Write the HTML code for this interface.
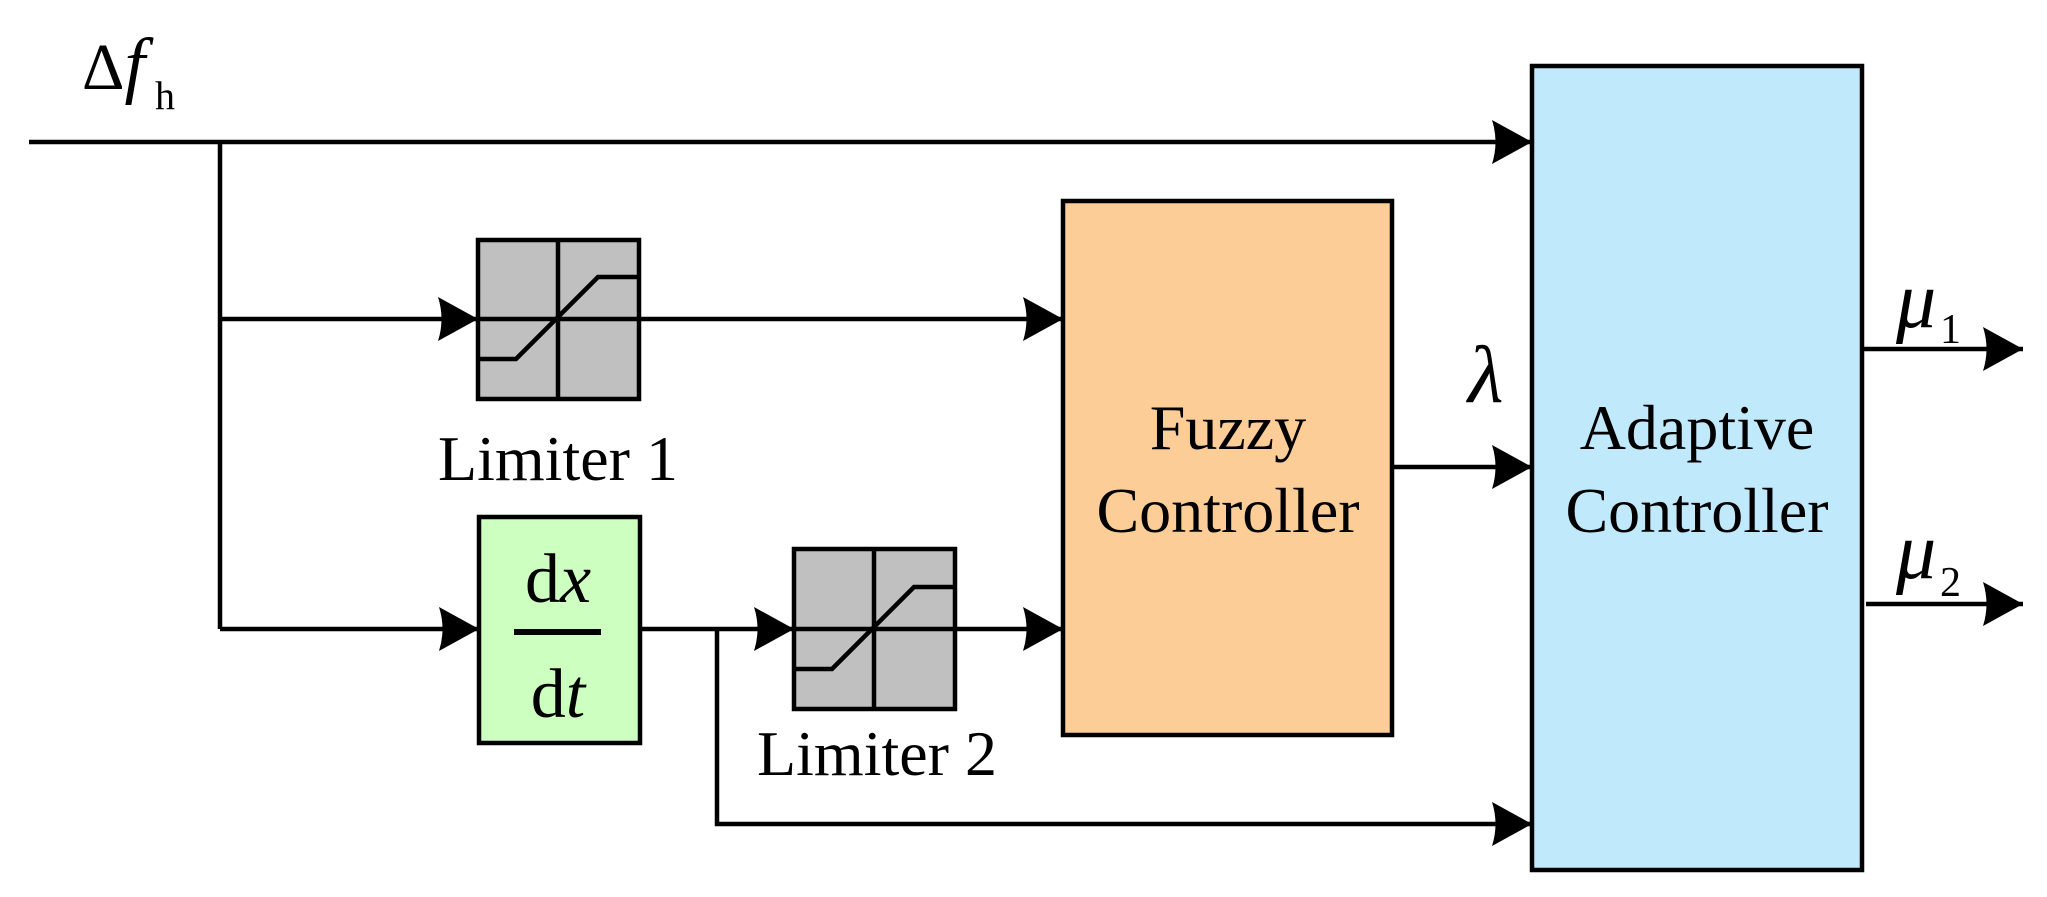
<!DOCTYPE html>
<html><head><meta charset="utf-8"><style>
html,body{margin:0;padding:0;background:#fff;}
svg{display:block;}
text{font-family:"Liberation Serif",serif;fill:#000;}
</style></head><body>
<svg width="2047" height="897" viewBox="0 0 2047 897" xmlns="http://www.w3.org/2000/svg">
<defs>
<marker id="ah" markerUnits="userSpaceOnUse" markerWidth="44" markerHeight="48" refX="40" refY="24" orient="auto">
<path d="M0,2 Q7,24 0,46 L40,24 Z" fill="#000"/>
</marker>
</defs>
<g stroke="#000" stroke-width="4.5" fill="none">
<rect x="1063" y="201" width="329" height="534" fill="#fdcd98"/>
<rect x="1532" y="66" width="330" height="804" fill="#c0eafc"/>
<rect x="478" y="240" width="161" height="159" fill="#c0c0c0"/>
<rect x="479" y="517" width="161" height="226" fill="#ccffc0"/>
<rect x="794" y="549" width="161" height="160" fill="#c0c0c0"/>
<line x1="558" y1="240" x2="558" y2="399"/>
<polyline points="478,359 516,359 598,277 639,277"/>
<line x1="874" y1="549" x2="874" y2="709"/>
<polyline points="794,669 832,669 914,587 955,587"/>
<line x1="29" y1="142" x2="1532" y2="142" marker-end="url(#ah)"/>
<line x1="220" y1="142" x2="220" y2="629"/>
<line x1="220" y1="319" x2="478" y2="319" marker-end="url(#ah)"/>
<line x1="478" y1="319" x2="639" y2="319"/>
<line x1="639" y1="319" x2="1063" y2="319" marker-end="url(#ah)"/>
<line x1="220" y1="629" x2="479" y2="629" marker-end="url(#ah)"/>
<line x1="640" y1="629" x2="794" y2="629" marker-end="url(#ah)"/>
<line x1="794" y1="629" x2="955" y2="629"/>
<line x1="955" y1="629" x2="1063" y2="629" marker-end="url(#ah)"/>
<polyline points="717,629 717,824 1532,824" marker-end="url(#ah)"/>
<line x1="1392" y1="467" x2="1532" y2="467" marker-end="url(#ah)"/>
<line x1="1862" y1="349" x2="2023" y2="349" marker-end="url(#ah)"/>
<line x1="1866" y1="604" x2="2023" y2="604" marker-end="url(#ah)"/>
<line x1="514" y1="632" x2="601" y2="632" stroke-width="6"/>
</g>
<text x="82" y="89" font-size="66">Δ<tspan font-style="italic" font-size="74">f</tspan></text>
<text x="155" y="109" font-size="40">h</text>
<text x="558" y="480" font-size="64" text-anchor="middle">Limiter 1</text>
<text x="877" y="775" font-size="64" text-anchor="middle">Limiter 2</text>
<text x="558" y="602" font-size="70" text-anchor="middle">d<tspan font-style="italic">x</tspan></text>
<text x="558" y="717" font-size="70" text-anchor="middle">d<tspan font-style="italic">t</tspan></text>
<text x="1228" y="449" font-size="64" text-anchor="middle">Fuzzy</text>
<text x="1228" y="532" font-size="64" text-anchor="middle">Controller</text>
<text x="1697" y="449" font-size="64" text-anchor="middle">Adaptive</text>
<text x="1697" y="532" font-size="64" text-anchor="middle">Controller</text>
<text x="1468" y="402" font-size="82" font-style="italic">λ</text>
<text x="1896" y="327" font-size="80" font-style="italic">μ</text>
<text x="1940" y="343" font-size="42">1</text>
<text x="1896" y="578" font-size="80" font-style="italic">μ</text>
<text x="1940" y="596" font-size="42">2</text>
</svg>
</body></html>
